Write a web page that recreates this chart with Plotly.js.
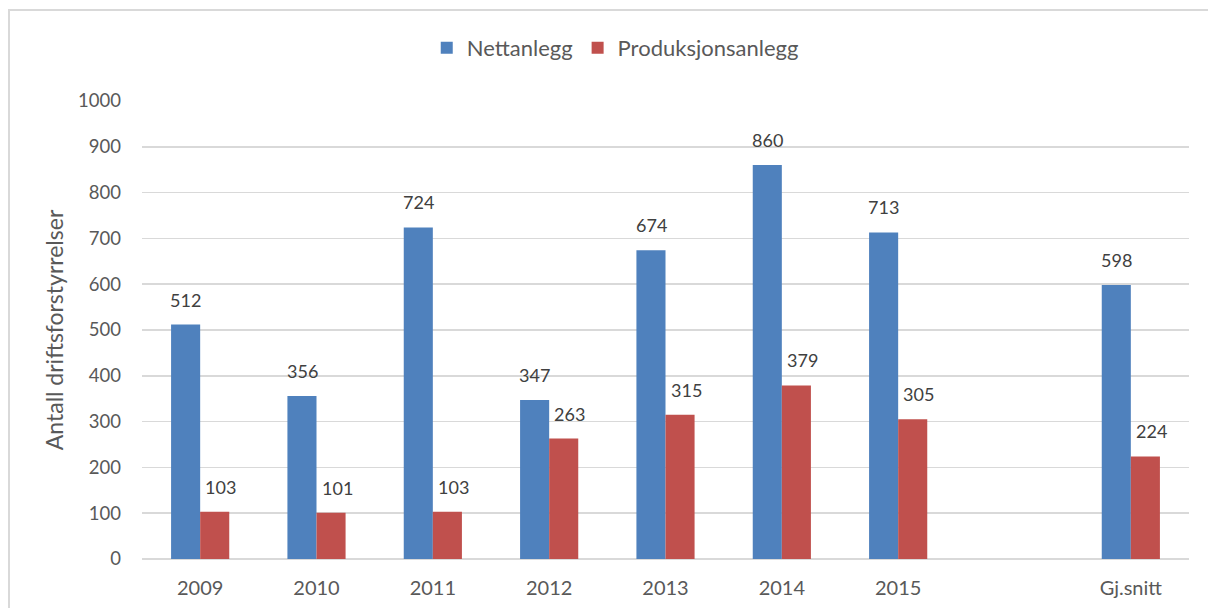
<!DOCTYPE html>
<html>
<head>
<meta charset="utf-8">
<script src="https://cdn.plot.ly/plotly-3.0.1.min.js"></script>
<style>
html,body{margin:0;padding:0;background:#fff;overflow:hidden;}
#chart{width:1208px;height:608px;position:absolute;left:0;top:0;}
#frame{position:absolute;left:8px;top:9px;width:1400px;height:800px;border:2px solid #d9d9d9;pointer-events:none;}
</style>
</head>
<body>
<div id="chart"></div>
<div id="frame"></div>
<script>
const categories = ['2009','2010','2011','2012','2013','2014','2015',' ','Gj.snitt'];
const nettanlegg = [512, 356, 724, 347, 674, 860, 713, null, 598];
const produksjonsanlegg = [103, 101, 103, 263, 315, 379, 305, null, 224];
const seriesNames = ['Nettanlegg', 'Produksjonsanlegg'];
const yTitle = 'Antall driftsforstyrrelser';

const font = 'Lato, Open Sans, sans-serif';

const traces = [
  {type:'bar', name:seriesNames[0], x:categories, y:nettanlegg, marker:{color:'#4f81bd'}, hoverinfo:'x+y'},
  {type:'bar', name:seriesNames[1], x:categories, y:produksjonsanlegg, marker:{color:'#c0504d'}, hoverinfo:'x+y'}
];

// data labels drawn as annotations anchored to the data values (x = category index)
const annotations = [];
[[nettanlegg, -14.5], [produksjonsanlegg, 14.5 + 6]].forEach(([vals, dx]) => {
  vals.forEach((v, i) => {
    if (v === null) return;
    annotations.push({x: i, y: v, xref:'x', yref:'y', text: String(v), showarrow:false,
      xanchor:'center', yanchor:'bottom', xshift: dx, yshift: 12,
      font:{family:font, size:18, color:'#404040'}});
  });
});

const layout = {
  width:1208, height:608,
  margin:{l:142, r:19, t:101, b:49},
  paper_bgcolor:'rgba(0,0,0,0)', plot_bgcolor:'#fff',
  barmode:'group', bargap:0.5, bargroupgap:0,
  font:{family:font, color:'#595959'},
  showlegend:true,
  legend:{orientation:'h', x:0.452, xanchor:'center', y:1.116, yanchor:'middle',
          font:{family:font, size:22, color:'#595959'}, traceorder:'normal'},
  annotations: annotations,
  xaxis:{type:'category', categoryorder:'array', categoryarray:categories, range:[-0.5, 8.5],
         showline:false, ticks:'', ticklabelstandoff:15,
         tickfont:{family:font, size:20, color:'#595959'}, showgrid:false, zeroline:false},
  yaxis:{range:[0,1000], dtick:100, tick0:0, showgrid:true, gridcolor:'#d9d9d9', gridwidth:1.5,
         zeroline:true, zerolinecolor:'#d9d9d9', zerolinewidth:1.5, showline:false, ticks:'',
         ticklen:0, ticklabelstandoff:20,
         tickfont:{family:font, size:18.5, color:'#595959'},
         title:{text:yTitle, font:{family:font, size:23, color:'#595959'}, standoff:8}}
};

Plotly.newPlot('chart', traces, layout, {displayModeBar:false, staticPlot:true});
</script>
</body>
</html>
